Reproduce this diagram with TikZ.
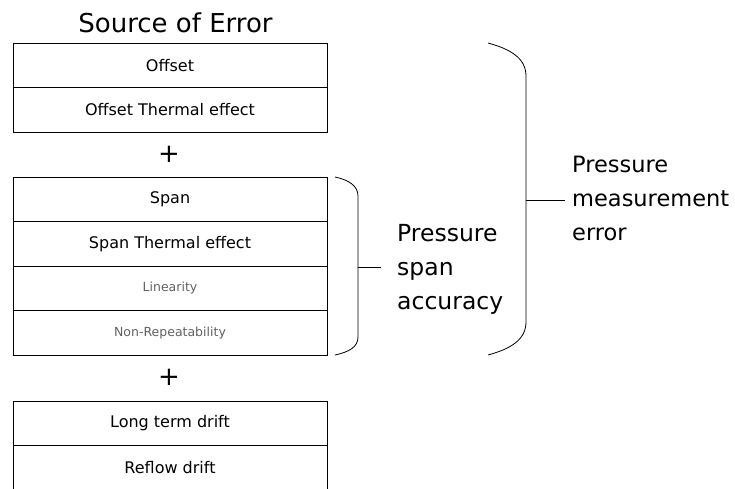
\documentclass[tikz,border=0pt]{standalone}
\usepackage{fontspec}
\setmainfont{DejaVu Sans}
\usetikzlibrary{positioning}

\tikzset{
    errrow/.style={draw, line width=0.8pt, minimum width=314pt, minimum height=44.5pt, inner sep=0pt, outer sep=0pt, font=\fontsize{16}{19}\selectfont},
    minorrow/.style={errrow, text=black!62, font=\fontsize{12.5}{15}\selectfont},
    plussign/.style={inner sep=0pt, font=\fontsize{26}{30}\selectfont},
    bracelabel/.style={inner sep=0pt, align=left, anchor=west, font=\fontsize{23.5}{34}\selectfont},
    brace/.style={line width=0.8pt}
}

\begin{document}
\begin{tikzpicture}[x=1pt, y=-1pt]

    \useasboundingbox (0,0) rectangle (735,489);

    \node[inner sep=0pt, anchor=base, font=\fontsize{26}{30}\selectfont] (title) at (175.5,33) {Source of Error};

    \node[errrow, anchor=north] (offset) at (170,43) {Offset};
    \node[errrow, below=0pt of offset] (offsetth) {Offset Thermal effect};

    \node[plussign] (plusa) at (169,154.5) {+};

    \node[errrow, anchor=north] (span) at (170,177) {Span};
    \node[errrow, below=0pt of span] (spanth) {Span Thermal effect};
    \node[minorrow, below=0pt of spanth] (linear) {Linearity};
    \node[minorrow, below=0pt of linear] (nonrep) {Non-Repeatability};

    \node[plussign] (plusb) at (169,377.5) {+};

    \node[errrow, anchor=north] (drift) at (170,401) {Long term drift};
    \node[errrow, below=0pt of drift] (reflow) {Reflow drift};

    \node[bracelabel] (spanacc) at (397,269) {Pressure\\span\\accuracy};
    \node[bracelabel, font=\fontsize{22.5}{34}\selectfont] (measerr) at (572,198.5) {Pressure\\measurement\\error};

    \draw[brace] (335,177) .. controls (349,180) and (358,186) .. (358,196) -- (358,337) .. controls (358,347) and (349,352) .. (335,355);
    \coordinate (spanmid) at (358,267);
    \draw[brace, shorten >=16pt] (spanmid) -- (spanmid -| spanacc.west);

    \draw[brace] (488,43) .. controls (510,49) and (526,58) .. (526,76) -- (526,322) .. controls (526,340) and (510,349) .. (488,355);
    \coordinate (measmid) at (526,200);
    \draw[brace, shorten >=7pt] (measmid) -- (measmid -| measerr.west);

\end{tikzpicture}
\end{document}
